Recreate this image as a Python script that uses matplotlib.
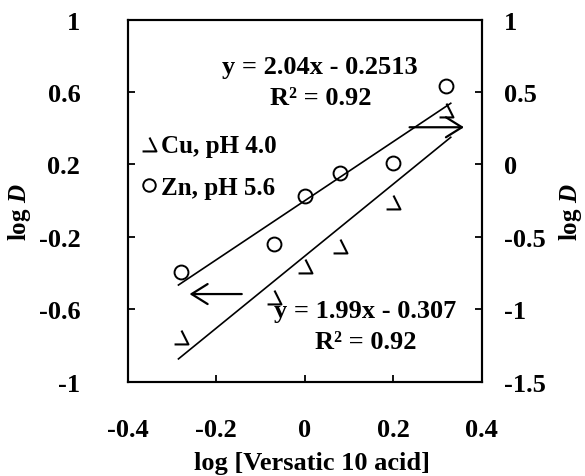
import matplotlib
matplotlib.use("Agg")
import matplotlib.pyplot as plt
import numpy as np
from matplotlib.path import Path
from matplotlib.lines import Line2D

plt.rcParams["font.family"] = ["Liberation Serif", "DejaVu Serif"]
plt.rcParams["font.weight"] = "bold"
plt.rcParams["axes.labelweight"] = "bold"
plt.rcParams["mathtext.fontset"] = "custom"
plt.rcParams["mathtext.rm"] = "Liberation Serif:bold"
plt.rcParams["mathtext.it"] = "Liberation Serif:bold:italic"

# log [Versatic 10 acid]
log_acid = [-0.28, -0.07, 0.0, 0.08, 0.20, 0.32]
# Cu at pH 4.0 (left axis), Zn at pH 5.6 (right axis)
log_d_cu = [-0.755, -0.531, -0.363, -0.252, -0.006, 0.500]
log_d_zn = [-0.740, -0.549, -0.216, -0.059, 0.010, 0.543]

cu_fit = (1.99, -0.307, 0.92)
zn_fit = (2.04, -0.2513, 0.92)
fit_range = [-0.285, 0.33]

left_ticks = [-1, -0.6, -0.2, 0.2, 0.6, 1]
right_ticks = [-1.5, -1, -0.5, 0, 0.5, 1]
x_ticks = [-0.4, -0.2, 0, 0.2, 0.4]

FS = 19

# open triangle with the left side missing, as in the original plot symbol
cu_marker = Path([(0, 0.5), (0.5, -0.5), (-0.5, -0.5)],
                 [Path.MOVETO, Path.LINETO, Path.LINETO])


def fmt(v):
    return f"{v:g}"


fig = plt.figure(figsize=(5.85, 4.77), dpi=100)
ax = fig.add_axes([0.218, 0.1977, 0.6055, 0.7593])
ax2 = ax.twinx()

xs = np.array(fit_range)
ax.plot(xs, cu_fit[0] * xs + cu_fit[1], color="black", lw=1.2)
ax2.plot(xs, zn_fit[0] * xs + zn_fit[1], color="black", lw=1.2)

ax.plot(log_acid, log_d_cu, ls="none", marker=cu_marker, ms=10,
        mfc="none", mec="black", mew=1.5)
ax2.plot(log_acid, log_d_zn, ls="none", marker="o", ms=10,
         mfc="none", mec="black", mew=1.4)

ax.set_xlim(-0.4, 0.4)
ax.set_ylim(-1, 1)
ax2.set_ylim(-1.5, 1)
ax.set_xticks(x_ticks)
ax.set_xticklabels([fmt(v) for v in x_ticks])
ax.set_yticks(left_ticks)
ax.set_yticklabels([fmt(v) for v in left_ticks])
ax2.set_yticks(right_ticks)
ax2.set_yticklabels([fmt(v) for v in right_ticks])

for a in (ax, ax2):
    for s in a.spines.values():
        s.set_linewidth(1.5)
ax.tick_params(axis="x", direction="in", length=5, width=1.3, labelsize=FS, pad=26)
ax.tick_params(axis="y", direction="in", length=5, width=1.3, labelsize=FS, pad=34)
ax2.tick_params(axis="y", direction="in", length=5, width=1.3, labelsize=FS, pad=16)

ax.set_xlabel("log [Versatic 10 acid]", fontsize=FS, labelpad=7)
ax.xaxis.label.set_x(0.52)
ax.set_ylabel("log $D$", fontsize=FS - 1, labelpad=4)
ax2.set_ylabel("log $D$", fontsize=FS - 1, labelpad=8)
ax.yaxis.label.set_y(0.47)
ax2.yaxis.label.set_y(0.47)

# trendline equations
ax.text(0.035, 0.742, f"y = {zn_fit[0]:.2f}x - {-zn_fit[1]:.4f}", fontsize=FS,
        ha="center", va="center")
ax.text(0.036, 0.570, f"R² = {zn_fit[2]:.2f}", fontsize=FS, ha="center", va="center")
ax.text(0.1365, -0.608, f"y = {cu_fit[0]:.2f}x - {-cu_fit[1]:.3f}", fontsize=FS,
        ha="center", va="center")
ax.text(0.138, -0.779, f"R² = {cu_fit[2]:.2f}", fontsize=FS, ha="center", va="center")

# arrows pointing to the axis each series belongs to
arrow = dict(arrowstyle="->,head_length=0.8,head_width=0.5", mutation_scale=14.4,
             lw=1.6, color="black", shrinkA=0, shrinkB=0)
ax.annotate("", xy=(-0.26, -0.516), xytext=(-0.142, -0.516), arrowprops=arrow)
ax.annotate("", xy=(0.36, 0.405), xytext=(0.237, 0.405), arrowprops=arrow)

handles = [
    Line2D([], [], ls="none", marker=cu_marker, ms=10, mfc="none", mec="black", mew=1.5),
    Line2D([], [], ls="none", marker="o", ms=9, mfc="none", mec="black", mew=1.4),
]
ax.legend(handles, ["Cu, pH 4.0", "Zn, pH 5.6"], loc="upper left",
          bbox_to_anchor=(0.041, 0.683), frameon=False, fontsize=FS - 1,
          handlelength=0.55, handletextpad=0.22, labelspacing=0.75,
          borderaxespad=0, borderpad=0)

fig.savefig("out.png", dpi=100)
